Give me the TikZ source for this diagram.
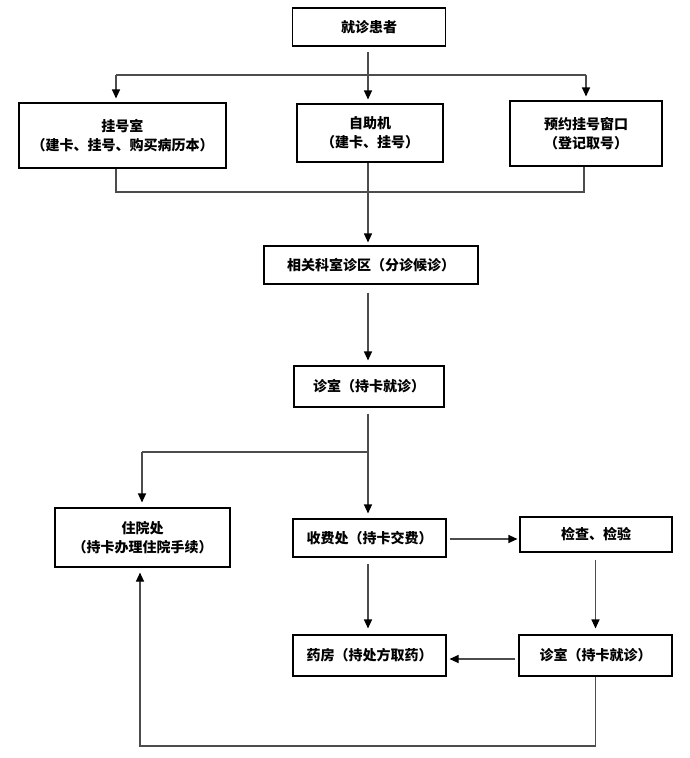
\documentclass[tikz,border=0pt]{standalone}
\usepackage{fontspec}
\newfontfamily\cjk{Noto Sans CJK SC}
\usepackage{tikz}
\usetikzlibrary{arrows.meta,positioning,calc}

\begin{document}
\begin{tikzpicture}[
    x=1pt, y=-1pt,
    every node/.style={font=\cjk\bfseries\fontsize{14}{19}\selectfont},
    box/.style={rectangle, draw=black, line width=1.1pt, align=center, inner sep=0pt},
    link/.style={draw=black!70, line width=1.1pt},
    arr/.style={link, -{Triangle[length=9pt, width=8pt, color=black]}},
]
    \useasboundingbox (0,0) rectangle (690,758);

    % Row 0: patient
    \node[box, minimum width=153pt, minimum height=38pt] (patient) at (369,27) {就诊患者};

    % Row 1: registration points
    \node[box, minimum width=207pt, minimum height=65pt] (regroom) at (122.5,135.5) {挂号室\\（建卡、挂号、购买病历本）};
    \node[box, minimum width=146pt, minimum height=58pt] (selfsvc) at (370,133) {自助机\\（建卡、挂号）};
    \node[box, minimum width=152pt, minimum height=65pt] (booking) at (586,133.5) {预约挂号窗口\\（登记取号）};

    % Row 2 and 3: waiting area and clinic
    \node[box, minimum width=214pt, minimum height=38pt] (dept) at (371,265) {相关科室诊区（分诊候诊）};
    \node[box, minimum width=150pt, minimum height=41pt] (clinic) at (369,386.5) {诊室（持卡就诊）};

    % Row 4: admission, payment, tests
    \node[box, minimum width=175pt, minimum height=59pt] (inpatient) at (142.5,537.5) {住院处\\（持卡办理住院手续）};
    \node[box, minimum width=153pt, minimum height=38pt] (cashier) at (369.5,538) {收费处（持卡交费）};
    \node[box, minimum width=152pt, minimum height=35pt] (exam) at (596,534.5) {检查、检验};

    % Row 5: pharmacy and second visit
    \node[box, minimum width=153pt, minimum height=41pt] (pharmacy) at (369.5,655.5) {药房（持处方取药）};
    \node[box, minimum width=153pt, minimum height=41pt] (revisit) at (595.5,655.5) {诊室（持卡就诊）};

    % Junction points
    \coordinate (topl) at (116,75);
    \coordinate (topr) at (586,75);
    \coordinate (mid) at (368,0);
    \coordinate (botl) at (116,192);
    \coordinate (botr) at (584,192);
    \coordinate (fork) at (368,452);
    \coordinate (forkl) at (142,452);
    \coordinate (loopr) at (595.5,746);
    \coordinate (loopl) at (140,746);

    % Edges
    \draw[link] (topl) -- (topr);
    \draw[arr, shorten <=5pt, shorten >=4pt] (patient.south -| mid) -- (selfsvc.north -| mid);
    \draw[arr, shorten >=4pt] (topl) -- (topl |- regroom.north);
    \draw[arr, shorten >=4pt] (topr) -- (topr |- booking.north);
    \draw[link] (botl |- regroom.south) -- (botl) -- (botr) -- (botr |- booking.south);
    \draw[arr, shorten >=3pt] (selfsvc.south -| mid) -- (dept.north -| mid);
    \draw[arr, shorten <=8pt, shorten >=5pt] (dept.south -| mid) -- (clinic.north -| mid);
    \draw[link, shorten <=6pt] (clinic.south -| mid) -- (fork) -- (forkl);
    \draw[arr, shorten >=5pt] (forkl) -- (inpatient.north -| forkl);
    \draw[arr, shorten >=5pt] (fork) -- (cashier.north -| fork);
    \draw[arr, shorten <=3pt, shorten >=2pt] (cashier.east |- 0,539) -- (exam.west |- 0,539);
    \draw[arr, shorten <=7pt, shorten >=6pt] (exam.south -| loopr) -- (revisit.north -| loopr);
    \draw[arr, shorten <=6pt, shorten >=6pt] (cashier.south -| mid) -- (pharmacy.north -| mid);
    \draw[arr, shorten <=3pt, shorten >=3pt] (revisit.west |- 0,659) -- (pharmacy.east |- 0,659);
    \draw[arr, shorten >=5pt] (revisit.south -| loopr) -- (loopr) -- (loopl) -- (loopl |- inpatient.south);
\end{tikzpicture}
\end{document}
